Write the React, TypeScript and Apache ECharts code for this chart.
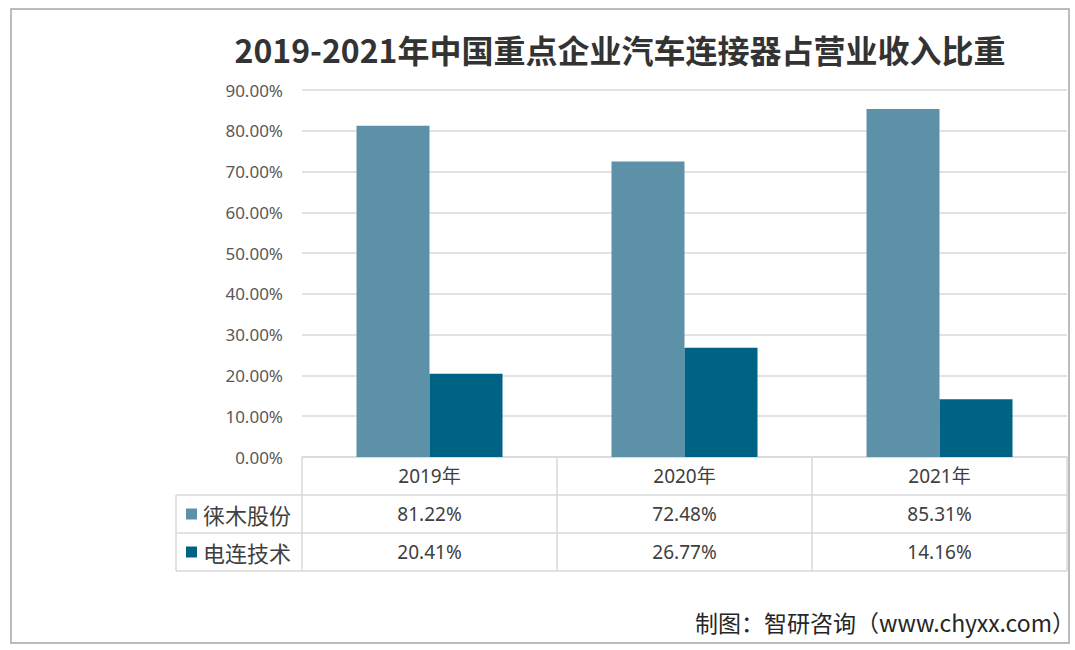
import React, { useEffect, useRef } from "react";
import * as echarts from "echarts";

const title = "2019-2021年中国重点企业汽车连接器占营业收入比重";
const source = "制图：智研咨询（www.chyxx.com）";
const categories = ["2019年", "2020年", "2021年"];
const seriesNames = ["徕木股份", "电连技术"];
const laimuValues = [0.8122, 0.7248, 0.8531];
const dianlianValues = [0.2041, 0.2677, 0.1416];
const colors = ["#5d91a7", "#006385"];
const yMax = 0.9;
const yInterval = 0.1;

const GRID_LEFT = 302;
const GRID_RIGHT = 8;
const GRID_TOP = 90;
const GRID_BOTTOM = 193;
const ROW_H = 38;
const TABLE_LEFT = 176;
const LINE_COLOR = "#d9d9d9";
const LATIN = "'Noto Sans', 'Noto Sans CJK SC', sans-serif";

export default function App() {
  const ref = useRef<HTMLDivElement>(null);
  useEffect(() => {
    if (!ref.current) return;
    const chart = echarts.init(ref.current, undefined, { renderer: "svg" });
    const seriesData = [laimuValues, dianlianValues];
    chart.setOption({
      animation: false,
      backgroundColor: "#ffffff",
      grid: { left: GRID_LEFT, right: GRID_RIGHT, top: GRID_TOP, bottom: GRID_BOTTOM },
      title: {
        text: title,
        left: 615,
        textAlign: "center",
        top: 28,
        textStyle: {
          fontFamily: "'Noto Sans CJK SC', sans-serif",
          fontWeight: "bold",
          fontSize: 32,
          color: "#333333",
        },
      },
      xAxis: {
        type: "category",
        data: categories,
        axisLine: { show: true, lineStyle: { color: LINE_COLOR, width: 1.5 } },
        axisTick: {
          show: true,
          interval: 0,
          length: ROW_H * 3,
          lineStyle: { color: LINE_COLOR, width: 1.5 },
        },
        axisLabel: {
          margin: 19,
          verticalAlign: "middle",
          fontSize: 19,
          color: "#404040",
          fontFamily: LATIN,
        },
      },
      yAxis: {
        type: "value",
        min: 0,
        max: yMax,
        interval: yInterval,
        axisLine: { show: false },
        axisTick: { show: false },
        splitLine: { lineStyle: { color: LINE_COLOR, width: 1.5 } },
        axisLabel: {
          margin: 19,
          fontSize: 17,
          color: "#595959",
          fontFamily: LATIN,
          formatter: (v: number) => (v * 100).toFixed(2) + "%",
        },
      },
      series: seriesNames.map((name, i) => ({
        name,
        type: "bar",
        data: seriesData[i],
        barWidth: 73,
        barGap: "0%",
        itemStyle: { color: colors[i] },
      })),
    });

    const baseY = chart.convertToPixel({ yAxisIndex: 0 }, 0) as number;
    const rightX = 1075 - GRID_RIGHT;
    const graphics: any[] = [];
    graphics.push({
      type: "rect",
      shape: { x: 11, y: 9, width: 1058, height: 634 },
      style: { fill: "none", stroke: "#a6a6a6", lineWidth: 1.5 },
      silent: true,
    });
    for (let r = 1; r <= 3; r++) {
      const y = baseY + ROW_H * r;
      graphics.push({
        type: "line",
        shape: { x1: TABLE_LEFT, y1: y, x2: rightX, y2: y },
        style: { stroke: LINE_COLOR, lineWidth: 1.5 },
        silent: true,
      });
    }
    graphics.push({
      type: "line",
      shape: { x1: TABLE_LEFT, y1: baseY + ROW_H, x2: TABLE_LEFT, y2: baseY + ROW_H * 3 },
      style: { stroke: LINE_COLOR, lineWidth: 1.5 },
      silent: true,
    });
    seriesNames.forEach((name, i) => {
      const cy = baseY + ROW_H * (i + 1.5);
      graphics.push({
        type: "rect",
        shape: { x: 186, y: cy - 5.5, width: 11, height: 11 },
        style: { fill: colors[i] },
        silent: true,
      });
      graphics.push({
        type: "text",
        x: 203,
        y: cy,
        style: {
          text: name,
          fontSize: 22,
          fill: "#404040",
          fontFamily: "'Noto Sans CJK SC', sans-serif",
          verticalAlign: "middle",
          align: "left",
        },
        silent: true,
      });
      seriesData[i].forEach((v, j) => {
        const cx = chart.convertToPixel({ xAxisIndex: 0 }, categories[j]) as number;
        graphics.push({
          type: "text",
          x: cx,
          y: cy,
          style: {
            text: (v * 100).toFixed(2) + "%",
            fontSize: 19,
            fill: "#404040",
            fontFamily: LATIN,
            align: "center",
            verticalAlign: "middle",
          },
          silent: true,
        });
      });
    });
    graphics.push({
      type: "text",
      x: 1075,
      y: 622,
      style: {
        text: source,
        fontSize: 23,
        fill: "#262626",
        fontFamily: "'Noto Sans CJK SC', sans-serif",
        align: "right",
        verticalAlign: "middle",
      },
      silent: true,
    });
    chart.setOption({ graphic: graphics });

    return () => chart.dispose();
  }, []);
  return (
    <div
      ref={ref}
      style={{ position: "absolute", left: 0, top: 0, width: 1075, height: 650 }}
    />
  );
}
